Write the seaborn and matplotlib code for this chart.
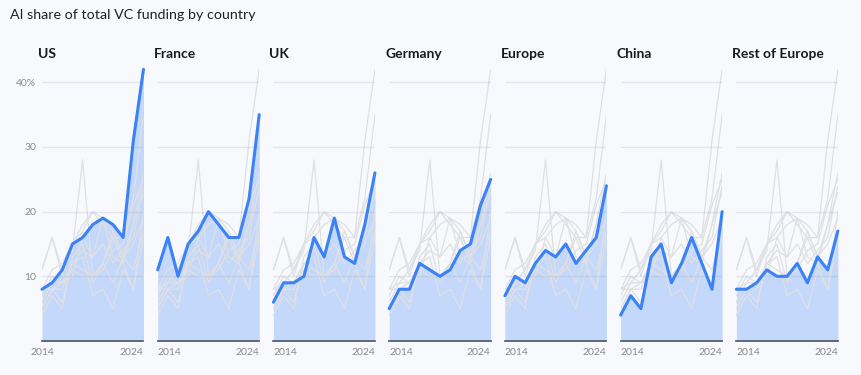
import pandas as pd
import seaborn as sns
import matplotlib.pyplot as plt

# AI share of total VC funding (%), 2014-2024
years = list(range(2014, 2025))
countries = ["US", "France", "UK", "Germany", "Europe", "China", "Rest of Europe"]

us = [8, 9, 11, 15, 16, 18, 19, 18, 16, 31, 42]
france = [11, 16, 10, 15, 17, 20, 18, 16, 16, 22, 35]
uk = [6, 9, 9, 10, 16, 13, 19, 13, 12, 18, 26]
germany = [5, 8, 8, 12, 11, 10, 11, 14, 15, 21, 25]
europe = [7, 10, 9, 12, 14, 13, 15, 12, 14, 16, 24]
china = [4, 7, 5, 13, 15, 9, 12, 16, 12, 8, 20]
rest_of_europe = [8, 8, 9, 11, 10, 10, 12, 9, 13, 11, 17]

# extra background series that only show up as grey lines
other_a = [11, 16, 11, 14, 28, 10, 12, 17, 13, 15, 19]
other_b = [5, 8, 6, 12, 13, 7, 8, 5, 11, 8, 16]
other_c = [8, 11, 12, 15, 18, 20, 19, 17, 13, 18, 23]

series = {
    "US": us, "France": france, "UK": uk, "Germany": germany,
    "Europe": europe, "China": china, "Rest of Europe": rest_of_europe,
    "Other A": other_a, "Other B": other_b, "Other C": other_c,
}

rows = []
for name, vals in series.items():
    for y, v in zip(years, vals):
        rows.append({"country": name, "year": y, "share": v})
df = pd.DataFrame(rows)

bg = "#f8f9fc"
blue = "#3b82f6"
fill = "#c4d8fb"
grey_line = "#dfe0e4"

sns.set_theme(style="white")
plt.rcParams['font.family'] = ['Lato', 'DejaVu Sans']

fig, axes = plt.subplots(1, 7, figsize=(8.62, 3.75), dpi=100, sharey=True)
fig.patch.set_facecolor(bg)
fig.subplots_adjust(left=0.0487, right=0.972, bottom=0.0907, top=0.815, wspace=0.14)

for i, (ax, name) in enumerate(zip(axes, countries)):
    ax.set_facecolor(bg)
    sub = df[df["country"] == name]

    ax.fill_between(sub["year"], 0, sub["share"], color=fill, lw=0, zorder=1)

    sns.lineplot(data=df, x="year", y="share", units="country", estimator=None,
                 color=grey_line, lw=0.9, ax=ax, zorder=2)

    for g in [10, 20, 30, 40]:
        ax.axhline(g, color="#9aa3b5", alpha=0.22, lw=1, zorder=2.5)

    sns.lineplot(data=sub, x="year", y="share", color=blue, lw=2.2, ax=ax,
                 zorder=4, clip_on=False)

    ax.set_xlim(2014, 2024)
    ax.set_ylim(0, 42)
    ax.set_xlabel("")
    ax.set_ylabel("")
    for s in ["top", "right", "left"]:
        ax.spines[s].set_visible(False)
    ax.spines["bottom"].set_color("#4a5468")
    ax.spines["bottom"].set_linewidth(1.2)
    ax.spines["bottom"].set_zorder(5)

    ax.set_xticks([2014, 2024])
    ax.set_xticklabels(["2014", "2024"])
    ax.tick_params(axis="x", length=0, pad=5, labelsize=7.5, labelcolor="#8a8a8a")
    labels = ax.get_xticklabels()
    labels[0].set_ha("center" if i == 0 else "left")
    labels[1].set_ha("right")

    ax.set_yticks([10, 20, 30, 40])
    if i == 0:
        ax.set_yticklabels(["10", "20", "30", "40%"])
        ax.tick_params(axis="y", length=0, pad=4, labelsize=7.5, labelcolor="#8a8a8a")
    else:
        ax.tick_params(axis="y", length=0, labelleft=False)

    ax.text(-0.04, 1.055, name, transform=ax.transAxes, fontsize=10,
            fontweight="bold", color="#1a1a1a", ha="left", va="center")

fig.text(10 / 862, 1 - 15 / 375, "AI share of total VC funding by country",
         fontsize=10.3, color="#222222", ha="left", va="center")

plt.savefig("out.png", dpi=100, facecolor=bg)
